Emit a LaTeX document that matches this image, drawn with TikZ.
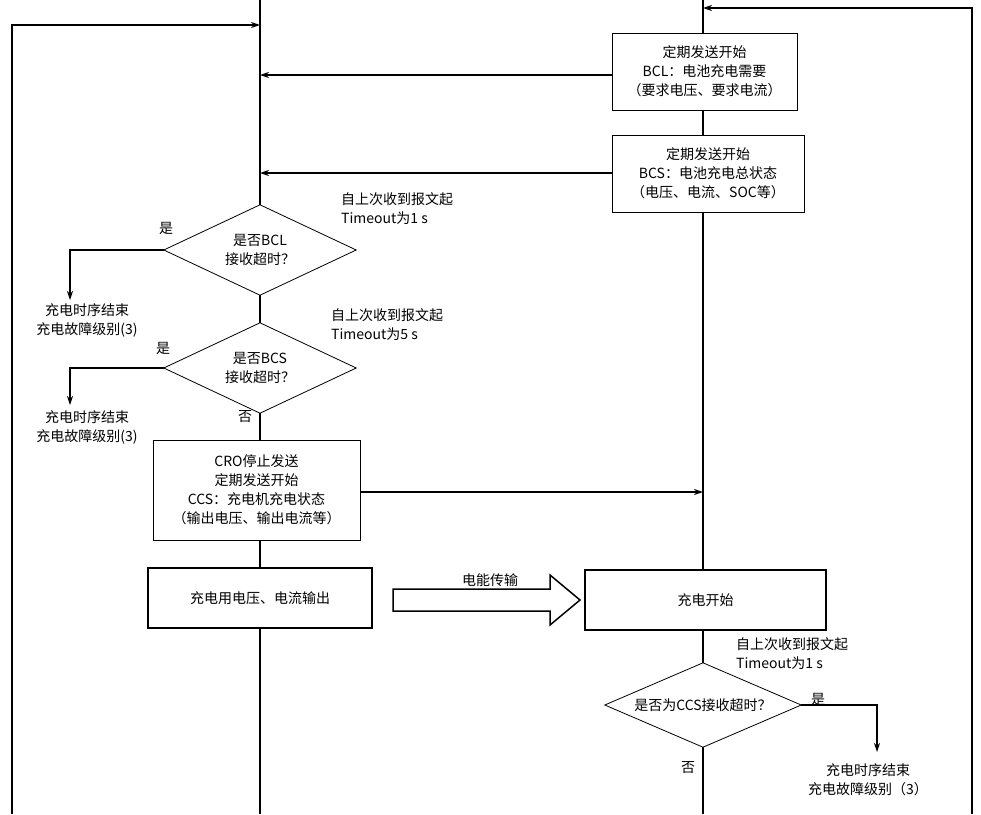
\documentclass[tikz,border=0pt]{standalone}
\usepackage{fontspec}
\setmainfont{Noto Sans CJK SC}
\usetikzlibrary{shapes.geometric,arrows.meta}
\begin{document}
\begin{tikzpicture}[x=1pt,y=-1pt,
  every node/.style={font=\fontsize{14}{19}\selectfont, align=center, inner sep=1pt},
  lab/.style={align=left},
  box/.style={draw, fill=white, line width=0.8pt, inner sep=0},
  tbox/.style={draw, fill=white, line width=2pt, inner sep=0},
  dia/.style={inner sep=0},
  ln/.style={line width=1.2pt},
  arr/.style={ln, -{Stealth[length=9pt,width=6pt]}}]
\useasboundingbox (0,0) rectangle (981,814);
\newcommand{\mydia}[1]{\draw[fill=white, line width=0.8pt] (#1.north) -- (#1.east) -- (#1.south) -- (#1.west) -- cycle;}
% main lines
\coordinate (Lt) at (260,0); \coordinate (Lb) at (260,814);
\coordinate (Rt) at (703,0); \coordinate (Rb) at (703,814);
\draw[ln] (Lt) -- (Lb);
\draw[ln] (Rt) -- (Rb);
\coordinate (fl0) at (12,814); \coordinate (fl1) at (12,25); \coordinate (fl2) at (260,25);
\draw[arr] (fl0) -- (fl1) -- (fl2);
\coordinate (fr0) at (972,814); \coordinate (fr1) at (972,8); \coordinate (fr2) at (703,8);
\draw[arr] (fr0) -- (fr1) -- (fr2);
% boxes
\node[box, minimum width=185, minimum height=77] (b1) at (704.5,71.5) {定期发送开始\\BCL：电池充电需要\\（要求电压、要求电流）};
\node[box, minimum width=192, minimum height=77] (b2) at (708,173.5) {定期发送开始\\BCS：电池充电总状态\\（电压、电流、SOC等）};
\coordinate (a1) at (260,75); \coordinate (a2) at (260,173);
\draw[arr] (b1.west |- a1) -- (a1);
\draw[arr] (b2.west |- a2) -- (a2);
\node[lab, anchor=west] (t1) at (340,209) {自上次收到报文起\\Timeout为1 s};
% diamond 1
\node[dia, minimum width=192, minimum height=90] (d1) at (260,250) {};
\mydia{d1}
\node at (d1) {是否BCL\\接收超时？};
\node (y1) at (166,228) {是};
\coordinate (c1) at (70,250); \coordinate (c1e) at (70,300);
\draw[arr] (d1.west) -- (c1) -- (c1e);
\node (e1) at (87,320) {充电时序结束\\充电故障级别(3)};
\node[lab, anchor=west] (t2) at (330,325) {自上次收到报文起\\Timeout为5 s};
% diamond 2
\node[dia, minimum width=192, minimum height=90] (d2) at (260,368) {};
\mydia{d2}
\node at (d2) {是否BCS\\接收超时？};
\node (y2) at (163,348) {是};
\coordinate (c2) at (70,368); \coordinate (c2e) at (70,405);
\draw[arr] (d2.west) -- (c2) -- (c2e);
\node (e2) at (87,427) {充电时序结束\\充电故障级别(3)};
\node (n2) at (245,417) {否};
% box 3
\node[box, minimum width=207, minimum height=100] (b3) at (256.5,490) {CRO停止发送\\定期发送开始\\CCS：充电机充电状态\\（输出电压、输出电流等）};
\coordinate (a3) at (703,492);
\draw[arr] (b3.east |- a3) -- (a3);
% thick boxes
\node[tbox, minimum width=224, minimum height=60] (b4) at (260,598) {充电用电压、电流输出};
\node[tbox, minimum width=241, minimum height=60] (b5) at (705.5,600) {充电开始};
\draw[line width=1.5pt] (393,589) -- (550,589) -- (550,575) -- (580,600) -- (550,625) -- (550,611) -- (393,611) -- cycle;
\node (et) at (490,580) {电能传输};
\node[lab, anchor=west] (t3) at (735,654) {自上次收到报文起\\Timeout为1 s};
% diamond 3
\node[dia, minimum width=196, minimum height=84] (d3) at (703,705) {};
\mydia{d3}
\node at (d3) {是否为CCS接收超时？};
\node (y3) at (818,699) {是};
\coordinate (c3) at (877,705); \coordinate (c3e) at (877,752);
\draw[arr] (d3.east) -- (c3) -- (c3e);
\node (e3) at (868,780) {充电时序结束\\充电故障级别（3）};
\node (n3) at (688,768) {否};
\end{tikzpicture}
\end{document}
